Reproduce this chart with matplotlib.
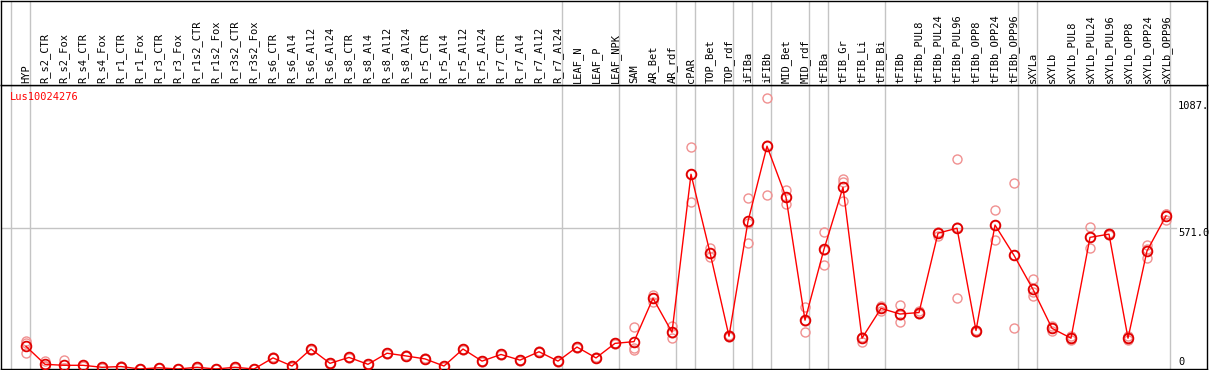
import matplotlib
matplotlib.use("Agg")
import matplotlib.pyplot as plt
import numpy as np

gene = "Lus10024276"

samples = ["HYP", "R_s2_CTR", "R_s2_Fox", "R_s4_CTR", "R_s4_Fox", "R_r1_CTR", "R_r1_Fox",
           "R_r3_CTR", "R_r3_Fox", "R_r1s2_CTR", "R_r1s2_Fox", "R_r3s2_CTR", "R_r3s2_Fox",
           "R_s6_CTR", "R_s6_Al4", "R_s6_Al12", "R_s6_Al24", "R_s8_CTR", "R_s8_Al4",
           "R_s8_Al12", "R_s8_Al24", "R_r5_CTR", "R_r5_Al4", "R_r5_Al12", "R_r5_Al24",
           "R_r7_CTR", "R_r7_Al4", "R_r7_Al12", "R_r7_Al24", "LEAF_N", "LEAF_P", "LEAF_NPK",
           "SAM", "AR_Bet", "AR_rdf", "cPAR", "TOP_Bet", "TOP_rdf", "iFIBa", "iFIBb",
           "MID_Bet", "MID_rdf", "tFIBa", "tFIB_Gr", "tFIB_Li", "tFIB_Bi", "tFIBb",
           "tFIBb_PUL8", "tFIBb_PUL24", "tFIBb_PUL96", "tFIBb_OPP8", "tFIBb_OPP24",
           "tFIBb_OPP96", "sXYLa", "sXYLb", "sXYLb_PUL8", "sXYLb_PUL24", "sXYLb_PUL96",
           "sXYLb_OPP8", "sXYLb_OPP24", "sXYLb_OPP96"]

means = [92, 19, 15, 15, 7, 10, 0, 5, 0, 7, 0, 7, 0, 45, 12, 81, 23, 47, 19, 64, 53, 41,
         12, 81, 32, 59, 36, 70, 32, 89, 45, 104, 111, 287, 149, 790, 472, 133, 599, 904,
         697, 198, 486, 737, 125, 246, 223, 229, 551, 571, 156, 584, 461, 323, 165, 125,
         534, 547, 125, 479, 621]

rep1 = [115, 34, 36, 17, 8, 12, 0, 6, 0, 9, 0, 9, 0, 47, 14, 83, 25, 49, 21, 66, 55, 43,
        14, 83, 34, 61, 38, 72, 34, 91, 47, 106, 169, 300, 176, 900, 490, 138, 693, 1098,
        726, 250, 556, 771, 128, 255, 260, 235, 556, 852, 160, 644, 755, 364, 174, 134,
        575, 550, 134, 503, 630]
rep2 = [105, 12, 5, 14, 7, 10, 0, 5, 0, 7, 0, 7, 0, 45, 12, 81, 23, 47, 19, 64, 53, 41,
        12, 81, 32, 59, 36, 70, 32, 89, 45, 104, 87, 288, 146, 791, 470, 133, 594, 908,
        697, 195, 481, 757, 125, 246, 219, 229, 551, 574, 156, 586, 463, 311, 165, 125,
        537, 547, 125, 485, 628]
rep3 = [66, 11, 4, 14, 6, 8, 0, 4, 0, 5, 0, 5, 0, 43, 10, 79, 21, 45, 17, 62, 51, 39,
        10, 79, 30, 57, 34, 68, 30, 87, 43, 102, 77, 273, 125, 679, 456, 128, 510, 706,
        668, 149, 421, 683, 111, 237, 190, 223, 540, 287, 150, 522, 165, 296, 156, 116,
        490, 544, 116, 449, 605]

# index of last sample in each group (-1 = left edge)
group_ends = [-1, 0, 28, 31, 34, 35, 37, 38, 39, 41, 42, 45, 52, 53, 60]

W, H = 1209, 370
fig = plt.figure(figsize=(W / 100, H / 100), dpi=100)
mono = "DejaVu Sans Mono"
grey = "#c4c4c4"

x = np.arange(len(samples))
xlim = ((1 - 26) / 19, (1207 - 26) / 19)

ax = fig.add_axes([1 / W, 1 / H, 1206 / W, 284 / H])
top = fig.add_axes([1 / W, 285 / H, 1206 / W, 84 / H], sharex=ax)
ax.set_xlim(*xlim)
ax.set_ylim(0, 1152)
top.set_ylim(0, 84)

for a in (ax, top):
    a.set_xticks([])
    a.set_yticks([])
    for s in a.spines.values():
        s.set_color("black")
        s.set_linewidth(1.0)
    for g in group_ends:
        a.axvline(g + 0.23, color=grey, lw=1, zorder=0)

ax.axhline(571, xmax=(1176 - 1) / 1206, color=grey, lw=1, zorder=0)

for i, name in enumerate(samples):
    top.text(i, 2, name, rotation=90, ha="center", va="bottom",
             fontsize=7.5, family=mono)

for r in (rep1, rep2, rep3):
    ax.plot(x, r, "o", ms=6.5, mfc="none", mec="#f09090", mew=1.0, zorder=2)
ax.plot(x, means, "-", color="red", lw=1, zorder=3)
ax.plot(x, means, "o", ms=7, mfc="none", mec="#e00000", mew=1.3, zorder=4)

ax.text(-0.842, 1102, gene, color="red", fontsize=7.5, family=mono,
        ha="left", va="center")

lx = (1178 - 26) / 19
ax.text(lx, 1087, "1087.", fontsize=7.5, family=mono, ha="left", va="top")
ax.text(lx, 571, "571.0", fontsize=7.5, family=mono, ha="left", va="top")
ax.text(lx, 8, "0", fontsize=7.5, family=mono, ha="left", va="bottom")

fig.savefig("out.png", dpi=100)
